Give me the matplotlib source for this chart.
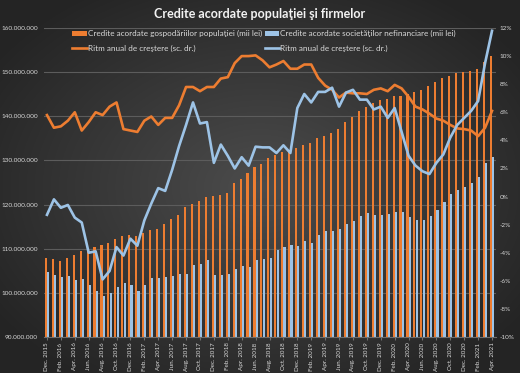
import numpy as np
import matplotlib
matplotlib.use("Agg")
import matplotlib.pyplot as plt
from matplotlib.ticker import FuncFormatter, MultipleLocator

plt.rcParams['font.family'] = ['Lato', 'DejaVu Sans']

month_abbr = ["Ian.", "Feb.", "Mar.", "Apr.", "Mai", "Jun.", "Jul.", "Aug.", "Sep.", "Oct.", "Nov.", "Dec."]
labels = [f"{month_abbr[(11 + i) % 12]} {2015 + (11 + i) // 12}" for i in range(65)]

# Credite acordate gospodariilor populatiei (milioane lei -> mii lei)
households = np.array([
    107.9, 107.7, 107.3, 107.9, 108.6, 109.4, 109.9, 110.4, 110.8, 111.4, 112.3, 112.9, 113.0, 112.8, 113.5, 114.2, 114.5,
    115.7, 116.7, 117.7, 119.5, 120.1, 120.7, 121.8, 121.9, 122.1, 122.7, 125.0, 125.7, 127.2, 128.4, 129.3, 130.5,
    131.2, 131.9, 132.3, 132.9, 133.6, 133.9, 135.0, 135.5, 136.3, 137.2, 138.7, 139.9, 141.1, 142.1, 143.1, 143.6, 143.9,
    144.6, 144.6, 145.1, 145.4, 145.9, 146.8, 147.7, 148.6, 149.2, 149.7, 150.1, 150.2, 150.6, 152.3, 153.7]) * 1e6

companies = np.array([
    104.8, 104.1, 103.5, 103.9, 102.8, 103.2, 101.7, 100.5, 99.2, 99.9, 101.4, 102.2, 101.7, 100.5, 101.7, 103.3, 103.3,
    103.6, 103.9, 104.2, 104.3, 106.4, 106.6, 107.5, 104.1, 104.1, 104.3, 105.4, 106.1, 105.8, 107.5, 107.7, 108.0,
    109.8, 110.5, 110.9, 110.7, 111.7, 111.4, 113.2, 114.1, 113.9, 114.5, 115.7, 116.2, 117.3, 118.2, 117.7, 117.7, 117.9,
    118.3, 118.3, 117.1, 116.4, 116.4, 117.3, 118.7, 120.5, 122.3, 123.3, 123.9, 124.9, 126.2, 129.5, 130.8]) * 1e6

growth_households = [
    5.8, 4.9, 5.0, 5.4, 6.0, 4.7, 5.3, 6.0, 5.8, 6.4, 6.7, 4.8, 4.7, 4.6, 5.4, 5.7, 5.1,
    5.6, 5.6, 6.5, 7.8, 7.8, 7.5, 7.8, 7.8, 8.4, 8.5, 9.5, 10.0, 10.0, 10.05, 9.7, 9.2,
    9.4, 9.65, 9.1, 9.1, 9.4, 9.4, 8.45, 7.9, 7.6, 7.05, 7.4, 7.35, 7.35, 7.3, 7.6, 7.7, 7.5,
    7.95, 7.7, 7.1, 6.4, 6.2, 5.9, 5.55, 5.4, 5.1, 4.85, 4.8, 4.7, 4.3, 4.9, 6.1]

growth_companies = [
    -1.3, -0.2, -0.8, -0.6, -1.5, -1.85, -4.0, -3.9, -5.9, -5.3, -3.6, -4.2, -3.0, -3.5, -1.7, -0.5, 0.6,
    0.4, 1.9, 3.6, 5.1, 6.7, 5.2, 5.3, 2.4, 3.7, 2.9, 2.0, 2.8, 2.2, 3.55, 3.5, 3.5,
    3.1, 3.65, 3.1, 6.3, 7.3, 6.7, 7.45, 7.45, 7.75, 6.4, 7.4, 7.6, 6.9, 6.9, 6.2, 6.4, 5.6,
    6.3, 4.6, 2.9, 2.2, 1.8, 1.6, 2.4, 3.0, 4.2, 5.1, 5.6, 6.1, 6.8, 9.5, 11.8]

ORANGE = "#ED7D31"
BLUE = "#9DC3E6"
TXT = "#D9D9D9"

W, H = 520, 373
fig = plt.figure(figsize=(W / 100, H / 100), dpi=100)

# radial gradient background
bg = fig.add_axes([0, 0, 1, 1], zorder=-10)
yy, xx = np.mgrid[0:H, 0:W]
r = np.sqrt(((xx - W * 0.5) / (W * 0.62)) ** 2 + ((yy - H * 0.5) / (H * 0.62)) ** 2)
r = np.clip(r, 0, 1)
c0 = np.array([0x4c, 0x4c, 0x4c]) / 255
c1 = np.array([0x24, 0x24, 0x24]) / 255
img = c0[None, None, :] * (1 - r[..., None]) + c1[None, None, :] * r[..., None]
bg.imshow(img, aspect='auto', extent=[0, 1, 0, 1])
bg.axis('off')

ax = fig.add_axes([43.5 / W, 1 - 337 / H, 452 / W, 309 / H])
ax.patch.set_alpha(0)
x = np.arange(len(labels))
bw = 0.3
b1 = ax.bar(x - 0.16, households, width=bw, color=ORANGE, zorder=2, linewidth=0)
b2 = ax.bar(x + 0.16, companies, width=bw, color=BLUE, zorder=2, linewidth=0)
ax.set_ylim(90e6, 160e6)
ax.set_xlim(-0.5, len(labels) - 0.5)
ax.yaxis.set_major_locator(MultipleLocator(10e6))
ax.yaxis.set_major_formatter(FuncFormatter(lambda v, p: f"{int(round(v)):,}".replace(",", ".")))
ax.yaxis.grid(True, color="#5c5c5c", lw=0.8, zorder=0)
ax.set_axisbelow(True)
for s in ["top", "right", "left"]:
    ax.spines[s].set_visible(False)
ax.spines["bottom"].set_color("#6e6e6e")
ax.tick_params(axis='y', length=0, labelsize=4.6, labelcolor=TXT, pad=4)
ax.set_xticks(x[::2])
ax.set_xticklabels(labels[::2], rotation=90, fontsize=4.5, color=TXT)
ax.tick_params(axis='x', length=2.5, color="#6e6e6e", pad=1.5)

ax2 = ax.twinx()
l1, = ax2.plot(x, growth_households, color=ORANGE, lw=1.9, solid_joinstyle='round', zorder=3)
l2, = ax2.plot(x, growth_companies, color=BLUE, lw=1.9, solid_joinstyle='round', zorder=3)
ax2.set_ylim(-10, 12)
ax2.yaxis.set_major_locator(MultipleLocator(2))
ax2.yaxis.set_major_formatter(FuncFormatter(lambda v, p: f"{v:.0f}%"))
ax2.tick_params(axis='y', length=0, labelsize=4.6, labelcolor=TXT, pad=3)
for s in ["top", "right", "left", "bottom"]:
    ax2.spines[s].set_visible(False)

fig.text(0.5, 1 - 14 / H, "Credite acordate populaţiei şi firmelor", ha='center', va='center',
         fontsize=9, fontweight='bold', color="#F2F2F2")

leg = fig.legend([b1, l1, b2, l2],
                 ["Credite acordate gospodăriilor populaţiei (mii lei)", "Ritm anual de creştere (sc. dr.)",
                  "Credite acordate societăţilor nefinanciare (mii lei)", "Ritm anual de creştere (sc. dr.)"],
                 ncol=2, loc='upper left', bbox_to_anchor=(68 / W, 1 - 26 / H), frameon=False,
                 fontsize=5.85, labelcolor=TXT, handlelength=1.8, handleheight=0.6, handletextpad=0.15,
                 columnspacing=0.3, labelspacing=0.9, borderpad=0)

fig.savefig("out.png", dpi=100)
